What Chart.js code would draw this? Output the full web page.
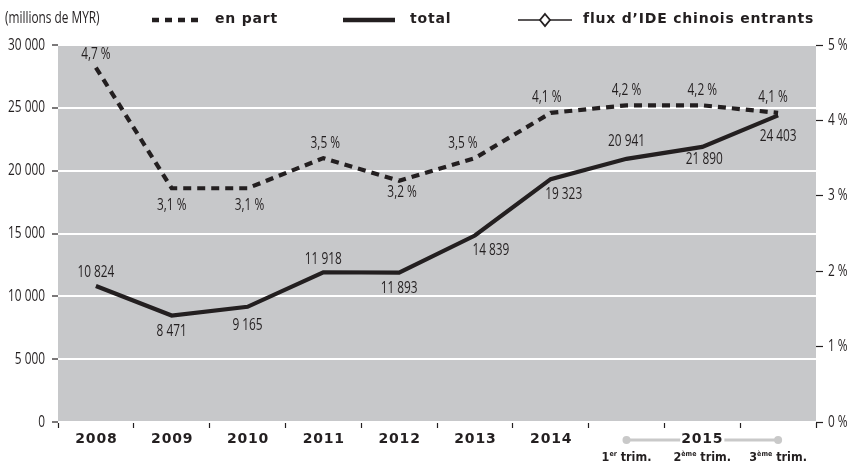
<!DOCTYPE html>
<html>
<head>
<meta charset="utf-8">
<script src="https://cdn.jsdelivr.net/npm/chart.js@4"></script>
<style>
  body { margin: 0; background: #fff; }
  canvas { display: block; }
</style>
</head>
<body>
<canvas id="myChart" width="854" height="463"></canvas>
<script>
// data
const categories = ['2008', '2009', '2010', '2011', '2012', '2013', '2014', 'T1 2015', 'T2 2015', 'T3 2015'];
const yearLabels = ['2008', '2009', '2010', '2011', '2012', '2013', '2014', '', '', ''];
const quarterLabels = [['1', 'er'], ['2', 'ème'], ['3', 'ème']];
const groupLabel = '2015';
const totalValues = [10824, 8471, 9165, 11918, 11893, 14839, 19323, 20941, 21890, 24403];
const shareValues = [4.7, 3.1, 3.1, 3.5, 3.2, 3.5, 4.1, 4.2, 4.2, 4.1];
const leftTicks = [0, 5000, 10000, 15000, 20000, 25000, 30000];
const rightTicks = [0, 1, 2, 3, 4, 5];

// label placement (offset from point in px)
const totalLabelOffsets = [[0, -14], [0, 16], [0, 19], [0, -13], [0, 16], [16, 15], [13, 15], [0, -17], [2, 13], [0, 21]];
const shareLabelOffsets = [[0, -13], [0, 17], [2, 17], [2, -15], [3, 12], [-12, -15], [-4, -15], [0, -15], [0, -15], [-5, -15]];

const INK = '#231f20';
const THIN = "'Open Sans', sans-serif";
const BOLD = "'DejaVu Sans', sans-serif";
const SQUEEZE = 0.74;

function fmtThousands(v) {
    return String(v).replace(/\B(?=(\d{3})+(?!\d))/g, ' ');
}
function fmtPct(v) {
    return String(v).replace('.', ',') + ' %';
}

// narrow text: normal font squeezed horizontally
function narrowText(ctx, text, x, y, align) {
    ctx.save();
    ctx.font = '16px ' + THIN;
    ctx.fillStyle = INK;
    ctx.textBaseline = 'middle';
    ctx.textAlign = align;
    ctx.translate(x, y);
    ctx.scale(SQUEEZE, 1);
    ctx.fillText(text, 0, 0);
    ctx.restore();
}

const backgroundPlugin = {
    id: 'plotBackground',
    beforeDraw(chart) {
        const { ctx, chartArea: a } = chart;
        ctx.save();
        ctx.fillStyle = '#c7c8ca';
        ctx.fillRect(a.left, a.top, a.right - a.left, a.bottom - a.top);
        ctx.restore();
    }
};

const tickLabelsPlugin = {
    id: 'tickLabels',
    afterDraw(chart) {
        const ctx = chart.ctx;
        const { x, y, y1 } = chart.scales;
        leftTicks.forEach(v => narrowText(ctx, fmtThousands(v), 45, y.getPixelForValue(v), 'right'));
        rightTicks.forEach(v => narrowText(ctx, v + ' %', 828, y1.getPixelForValue(v), 'left'));
        ctx.save();
        ctx.font = 'bold 14px ' + BOLD;
        ctx.letterSpacing = '0.8px';
        ctx.fillStyle = INK;
        ctx.textAlign = 'center';
        ctx.textBaseline = 'middle';
        yearLabels.forEach((lab, i) => {
            if (lab) ctx.fillText(lab, x.getPixelForValue(i) + 0.5, 439);
        });
        ctx.restore();
    }
};

const labelsPlugin = {
    id: 'pointLabels',
    afterDatasetsDraw(chart) {
        const ctx = chart.ctx;
        chart.getDatasetMeta(0).data.forEach((pt, i) => {
            const o = shareLabelOffsets[i];
            narrowText(ctx, fmtPct(shareValues[i]), pt.x + o[0], pt.y + o[1], 'center');
        });
        chart.getDatasetMeta(1).data.forEach((pt, i) => {
            const o = totalLabelOffsets[i];
            narrowText(ctx, fmtThousands(totalValues[i]), pt.x + o[0], pt.y + o[1], 'center');
        });
    }
};

const legendPlugin = {
    id: 'topLegend',
    afterDraw(chart) {
        const ctx = chart.ctx;
        const y = 19;
        narrowText(ctx, '(millions de MYR)', 5, y - 1, 'left');
        ctx.save();
        ctx.fillStyle = INK;
        ctx.strokeStyle = INK;
        ctx.textBaseline = 'middle';
        ctx.textAlign = 'left';

        // en part
        ctx.lineWidth = 4.5;
        ctx.setLineDash([7, 6]);
        ctx.beginPath(); ctx.moveTo(152, y + 1); ctx.lineTo(204, y + 1); ctx.stroke();
        ctx.setLineDash([]);
        ctx.font = 'bold 14px ' + BOLD;
        ctx.letterSpacing = '0.8px';
        ctx.fillText('en part', 215, y);

        // total
        ctx.beginPath(); ctx.moveTo(343, y + 1); ctx.lineTo(395, y + 1); ctx.stroke();
        ctx.fillText('total', 410, y);

        // flux
        ctx.lineWidth = 1.5;
        ctx.beginPath(); ctx.moveTo(518, y + 1); ctx.lineTo(572, y + 1); ctx.stroke();
        ctx.fillStyle = '#fff';
        ctx.lineWidth = 1.8;
        ctx.beginPath();
        ctx.moveTo(545, y - 5); ctx.lineTo(550, y + 1); ctx.lineTo(545, y + 7); ctx.lineTo(540, y + 1);
        ctx.closePath(); ctx.fill(); ctx.stroke();
        ctx.fillStyle = INK;
        ctx.fillText('flux d\u2019IDE chinois entrants', 583, y);
        ctx.restore();
    }
};

const quarterPlugin = {
    id: 'quarterAxis',
    afterDraw(chart) {
        const ctx = chart.ctx;
        const xs = chart.scales.x;
        const x1 = xs.getPixelForValue(7);
        const x2 = xs.getPixelForValue(8);
        const x3 = xs.getPixelForValue(9);
        const y = 440;
        ctx.save();
        ctx.strokeStyle = '#c9c9c9';
        ctx.fillStyle = '#c9c9c9';
        ctx.lineWidth = 3;
        ctx.beginPath(); ctx.moveTo(x1, y); ctx.lineTo(x3, y); ctx.stroke();
        [x1, x3].forEach(x => { ctx.beginPath(); ctx.arc(x, y, 4, 0, Math.PI * 2); ctx.fill(); });

        ctx.font = 'bold 14px ' + BOLD;
        ctx.letterSpacing = '0.8px';
        ctx.textAlign = 'center';
        ctx.textBaseline = 'middle';
        const w = ctx.measureText(groupLabel).width;
        ctx.fillStyle = '#fff';
        ctx.fillRect(x2 - w / 2 - 1, y - 8, w + 2, 16);
        ctx.fillStyle = INK;
        ctx.fillText(groupLabel, x2, y - 1);

        // quarter labels with superscripts
        ctx.letterSpacing = '0px';
        ctx.textAlign = 'left';
        ctx.textBaseline = 'alphabetic';
        const base = 461;
        const big = "bold 12.5px 'DejaVu Sans Condensed', sans-serif";
        const small = "bold 7px 'DejaVu Sans Condensed', sans-serif";
        [x1, x2, x3].forEach((x, i) => {
            const [num, sup] = quarterLabels[i];
            const rest = ' trim.';
            ctx.font = big;
            const wNum = ctx.measureText(num).width;
            const wRest = ctx.measureText(rest).width;
            ctx.font = small;
            const wSup = ctx.measureText(sup).width;
            let cx = x - (wNum + wSup + wRest) / 2;
            ctx.font = big;
            ctx.fillText(num, cx, base);
            cx += wNum;
            ctx.font = small;
            ctx.fillText(sup, cx, base - 5);
            cx += wSup;
            ctx.font = big;
            ctx.fillText(rest, cx, base);
        });
        ctx.restore();
    }
};

const ctx = document.getElementById('myChart').getContext('2d');
const myChart = new Chart(ctx, {
    type: 'line',
    data: {
        labels: categories,
        datasets: [{
            label: 'en part',
            data: shareValues,
            yAxisID: 'y1',
            borderColor: INK,
            borderWidth: 4.2,
            borderDash: [8, 6],
            pointRadius: 0,
            tension: 0,
            fill: false
        }, {
            label: 'total',
            data: totalValues,
            yAxisID: 'y',
            borderColor: INK,
            borderWidth: 4.2,
            pointRadius: 0,
            tension: 0,
            fill: false
        }]
    },
    options: {
        responsive: false,
        animation: false,
        layout: { padding: { top: 45, left: 0, right: 0, bottom: 0 } },
        plugins: {
            legend: { display: false },
            tooltip: { enabled: false }
        },
        scales: {
            x: {
                offset: true,
                border: { display: false },
                grid: {
                    offset: true,
                    drawOnChartArea: false,
                    drawTicks: true,
                    tickLength: 6,
                    tickColor: INK,
                    tickWidth: 1.2
                },
                ticks: { display: false, autoSkip: false },
                afterFit(scale) { scale.height = 41; }
            },
            y: {
                position: 'left',
                min: 0,
                max: 30000,
                border: { display: false },
                grid: {
                    color: '#ffffff',
                    lineWidth: 2,
                    tickColor: INK,
                    tickLength: 6,
                    tickWidth: 1.2
                },
                afterBuildTicks(scale) { scale.ticks = leftTicks.map(v => ({ value: v })); },
                ticks: { display: false },
                afterFit(scale) { scale.width = 58; }
            },
            y1: {
                position: 'right',
                min: 0,
                max: 5,
                border: { display: false },
                grid: {
                    drawOnChartArea: false,
                    tickColor: INK,
                    tickLength: 7,
                    tickWidth: 1.2
                },
                afterBuildTicks(scale) { scale.ticks = rightTicks.map(v => ({ value: v })); },
                ticks: { display: false },
                afterFit(scale) { scale.width = 38; }
            }
        }
    },
    plugins: [backgroundPlugin, labelsPlugin, tickLabelsPlugin, legendPlugin, quarterPlugin]
});
</script>
</body>
</html>
